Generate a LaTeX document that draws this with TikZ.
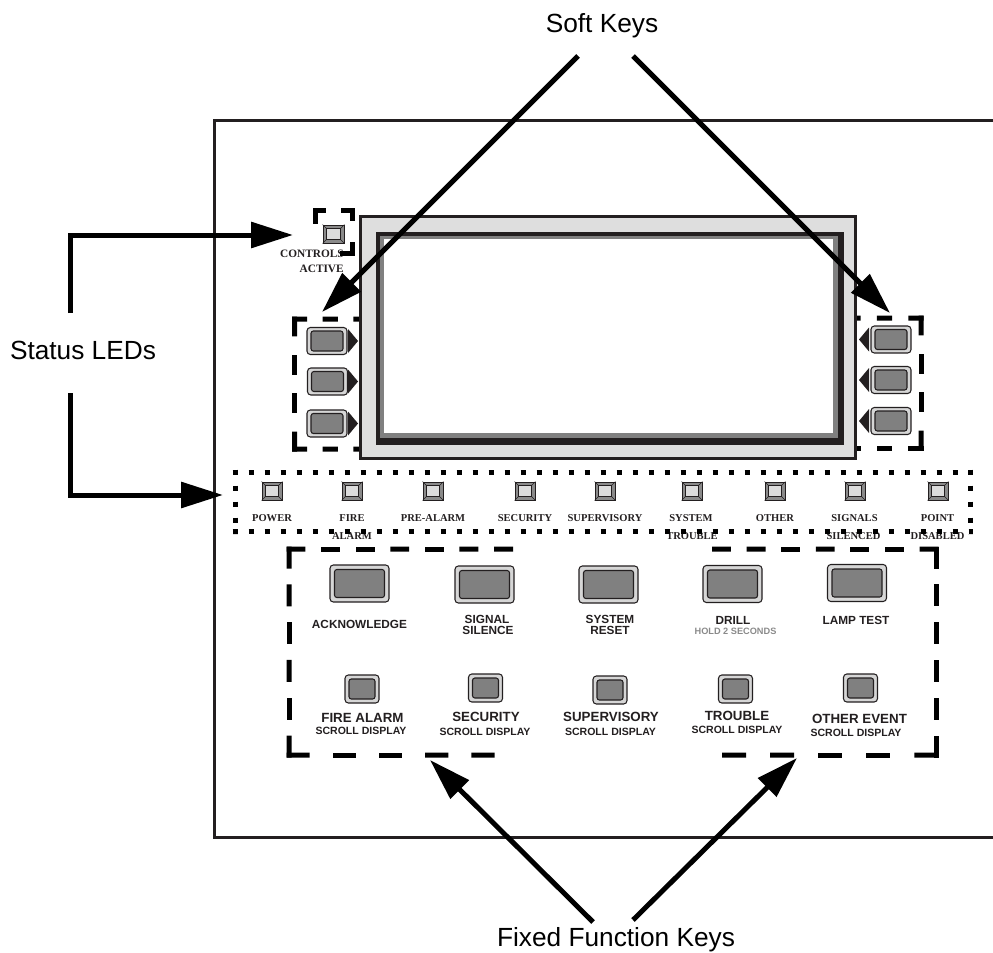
\documentclass[tikz,border=0pt]{standalone}
\usepackage{fontspec}
\setmainfont{Liberation Serif}
\newfontfamily\arialf{Liberation Sans}
\usetikzlibrary{arrows.meta,calc}
\definecolor{ink}{HTML}{231F20}
\definecolor{frameg}{HTML}{DEDEDE}
\definecolor{midg}{HTML}{808080}
\definecolor{keyg}{HTML}{D6D6D6}
\definecolor{ledg}{HTML}{8A8A8A}
\definecolor{ledin}{HTML}{DCDCDC}
\definecolor{holdg}{HTML}{8A8A8A}
\tikzset{
 arr/.style={line width=3.75pt, draw=black, -{Triangle[length=31.5pt,width=19pt]}},
 biglbl/.style={font=\arialf\fontsize{19.7}{23}\selectfont, inner sep=0pt, text=black},
 ledlbl/.style={font=\bfseries\fontsize{7.9}{9}\selectfont, inner sep=0pt, text=ink},
 ctllbl/.style={font=\bfseries\fontsize{8.5}{9}\selectfont, inner sep=0pt, text=ink},
 klbl/.style={font=\arialf\bfseries\fontsize{8.85}{10}\selectfont, inner sep=0pt, text=ink},
 holdlbl/.style={font=\arialf\bfseries\fontsize{6.9}{8}\selectfont, inner sep=0pt, text=holdg},
 flbl/.style={font=\arialf\bfseries\fontsize{10}{11}\selectfont, inner sep=0pt, text=ink},
 slbl/.style={font=\arialf\bfseries\fontsize{7.9}{9}\selectfont, inner sep=0pt, text=ink},
 keyout/.style={draw=ink, line width=0.8pt, fill=keyg, rounded corners=2.5pt, inner sep=0pt},
 keyin/.style={draw=ink, line width=0.8pt, fill=midg, rounded corners=1.8pt, inner sep=0pt},
 bigo/.style={keyout, minimum width=44.25pt, minimum height=27.75pt},
 bigi/.style={keyin, minimum width=37.5pt, minimum height=21pt},
 smo/.style={keyout, minimum width=25.5pt, minimum height=21pt},
 smi/.style={keyin, minimum width=19.5pt, minimum height=15pt},
 sfo/.style={keyout, minimum width=30pt, minimum height=20.25pt},
 sfi/.style={keyin, minimum width=24pt, minimum height=15pt},
 ledo/.style={draw=ink, line width=0.6pt, fill=ledg, minimum width=15pt, minimum height=13.5pt, inner sep=0pt},
 ledi/.style={draw=ink, line width=0.6pt, fill=ledin, minimum width=9.75pt, minimum height=8.25pt, inner sep=0pt},
 bevel/.style={draw=ink, line width=0.5pt},
 dpiece/.style={draw=black, line width=3.75pt, line cap=rect},
 ldots/.style={draw=black, line width=3.75pt, dash pattern=on 3.75pt off 8.25pt},
}
% #1 start, #2 end, #3 number of dashes, #4 dash length as fraction of the segment
\newcommand{\dseg}[4]{%
  \foreach \k in {1,...,#3} {
    \pgfmathsetmacro{\ta}{(\k-1)*(1-#4)/(#3-1)}
    \pgfmathsetmacro{\tb}{\ta+#4}
    \draw[dpiece] ($(#1)!\ta!(#2)$) -- ($(#1)!\tb!(#2)$);
  }%
}
\begin{document}
\begin{tikzpicture}[x=0.75pt,y=-0.75pt]
\useasboundingbox (0,0) rectangle (993,953);

% panel outline (open to the right)
\draw[ink, line width=2.25pt] (996,120) -| (214,837) -- (996,837);

% soft key brackets (under the display)
\dseg{294.5,319}{366,319}{3}{0.14}
\dseg{294.5,319}{294.5,449}{4}{0.115}
\dseg{294.5,449}{366,449}{3}{0.14}
\dseg{921,318}{848,318}{3}{0.14}
\dseg{921,318}{921,448}{4}{0.115}
\dseg{921,448}{848,448}{3}{0.14}

% display
\draw[ink, line width=2.25pt, fill=frameg] (360.5,216.5) rectangle (855.5,458.5);
\fill[ink] (376,232) rectangle (844,445);
\fill[midg] (380,236) rectangle (838,438);
\fill[white] (384,239) rectangle (833,433);

% soft keys
\foreach \i/\x/\y in {1/327/341, 2/327.5/381.5, 3/327/423.5} {
  \node[sfo] (skl\i) at (\x,\y) {};
  \node[sfi] (skli\i) at (skl\i) {};
  \fill[ink] (348,\y-12) -- (358,\y) -- (348,\y+12) -- cycle;
}
\foreach \i/\x/\y in {1/891/339.5, 2/891/380, 3/891/421} {
  \node[sfo] (skr\i) at (\x,\y) {};
  \node[sfi] (skri\i) at (skr\i) {};
  \fill[ink] (869,\y-12) -- (859,\y) -- (869,\y+12) -- cycle;
}

% controls active
\node[ctllbl, anchor=east] (ctl1) at (344,254) {CONTROLS};
\node[ctllbl, anchor=east] (ctl2) at (344,269) {ACTIVE};
\node[ledo, minimum width=15.75pt] (ledc) at (333.5,234) {};
\node[ledi, minimum width=10.5pt] (ledci) at (ledc) {};
\foreach \c in {north west, north east, south west, south east}
  \draw[bevel] (ledc.\c) -- (ledci.\c);
\dseg{315,210}{352,210}{2}{0.22}
\dseg{352,210}{352,253}{2}{0.19}
\draw[dpiece] (315,210) -- (315,221);
\draw[dpiece] (342,253) -- (352,253);

% status LEDs row
\foreach \n/\x in {1/272, 2/352, 3/433, 4/525, 5/605, 6/692, 7/775, 8/855, 9/938} {
  \node[ledo] (led\n) at (\x,491) {};
  \node[ledi] (ledi\n) at (led\n) {};
  \foreach \c in {north west, north east, south west, south east}
    \draw[bevel] (led\n.\c) -- (ledi\n.\c);
}
\node[ledlbl] (l1) at (272,518) {POWER};
\node[ledlbl] (l2) at (352,518) {FIRE};
\node[ledlbl] (l2b) at (352,536) {ALARM};
\node[ledlbl] (l3) at (433,518) {PRE-ALARM};
\node[ledlbl] (l4) at (525,518) {SECURITY};
\node[ledlbl] (l5) at (605,518) {SUPERVISORY};
\node[ledlbl] (l6) at (691,518) {SYSTEM};
\node[ledlbl] (l6b) at (692,536) {TROUBLE};
\node[ledlbl] (l7) at (775,518) {OTHER};
\node[ledlbl] (l8) at (854.5,518) {SIGNALS};
\node[ledlbl] (l8b) at (853.5,536) {SILENCED};
\node[ledlbl] (l9) at (937.5,518) {POINT};
\node[ledlbl] (l9b) at (937.5,536) {DISABLED};
\draw[ldots] (232.5,472) -- (972.5,472);
\draw[ldots] (232.5,531) -- (972.5,531);
\draw[ldots] (235,469.5) -- (235,533.5);
\draw[ldots] (970,469.5) -- (970,533.5);

% fixed function keys
\foreach \i/\x/\y in {1/359.5/583.5, 2/484.5/584.5, 3/608.5/584.5, 4/732.5/584, 5/857/583} {
  \node[bigo] (bk\i) at (\x,\y) {};
  \node[bigi] (bki\i) at (bk\i) {};
}
\foreach \i/\x/\y in {1/362/689, 2/485.5/688, 3/610/690, 4/735.5/689, 5/860.5/688} {
  \node[smo] (fk\i) at (\x,\y) {};
  \node[smi] (fki\i) at (fk\i) {};
}
\node[klbl] (t1) at (359.5,624.5) {ACKNOWLEDGE};
\node[klbl] (t2) at (487,619) {SIGNAL};
\node[klbl] (t2b) at (488,630) {SILENCE};
\node[klbl] (t3) at (610,619) {SYSTEM};
\node[klbl] (t3b) at (610,630) {RESET};
\node[klbl] (t4) at (733,620) {DRILL};
\node[holdlbl] (t4b) at (735.5,631.5) {HOLD 2 SECONDS};
\node[klbl] (t5) at (856,620.5) {LAMP TEST};

\node[flbl] (f1) at (362.5,717.5) {FIRE ALARM};
\node[slbl] (f1b) at (361,731) {SCROLL DISPLAY};
\node[flbl] (f2) at (486,717) {SECURITY};
\node[slbl] (f2b) at (485,732) {SCROLL DISPLAY};
\node[flbl] (f3) at (611,717) {SUPERVISORY};
\node[slbl] (f3b) at (610.5,732) {SCROLL DISPLAY};
\node[flbl] (f4) at (737,716) {TROUBLE};
\node[slbl] (f4b) at (737,730) {SCROLL DISPLAY};
\node[flbl] (f5) at (859.5,719) {OTHER EVENT};
\node[slbl] (f5b) at (856,733) {SCROLL DISPLAY};

\dseg{289,549}{510.5,549}{7}{0.063}
\dseg{289,549}{289,755}{6}{0.0825}
\dseg{289,755}{492,755}{5}{0.0887}
\dseg{936,549}{714.5,549}{7}{0.063}
\dseg{936,549}{936,755}{6}{0.0825}
\dseg{936,755}{724.5,755}{5}{0.09}

% callout labels
\node[biglbl, anchor=base] (softlbl) at (602,32) {Soft Keys};
\node[biglbl, anchor=base] (statuslbl) at (83,359) {Status LEDs};
\node[biglbl, anchor=base] (ffklbl) at (616,946) {Fixed Function Keys};

\coordinate (sk1s) at (578,56);
\coordinate (sk1t) at (322,312);
\coordinate (sk2s) at (633,56);
\coordinate (sk2t) at (890,313);
\coordinate (st1s) at (70.5,313);
\coordinate (st1t) at (293,235);
\coordinate (st2s) at (70.5,393);
\coordinate (st2t) at (223,495);
\coordinate (ff1s) at (593,922);
\coordinate (ff1t) at (430,760);
\coordinate (ff2s) at (633,920);
\coordinate (ff2t) at (797,758);

\draw[arr] (sk1s) -- (sk1t);
\draw[arr] (sk2s) -- (sk2t);
\draw[arr] (st1s) |- (st1t);
\draw[arr] (st2s) |- (st2t);
\draw[arr] (ff1s) -- (ff1t);
\draw[arr] (ff2s) -- (ff2t);
\end{tikzpicture}
\end{document}
